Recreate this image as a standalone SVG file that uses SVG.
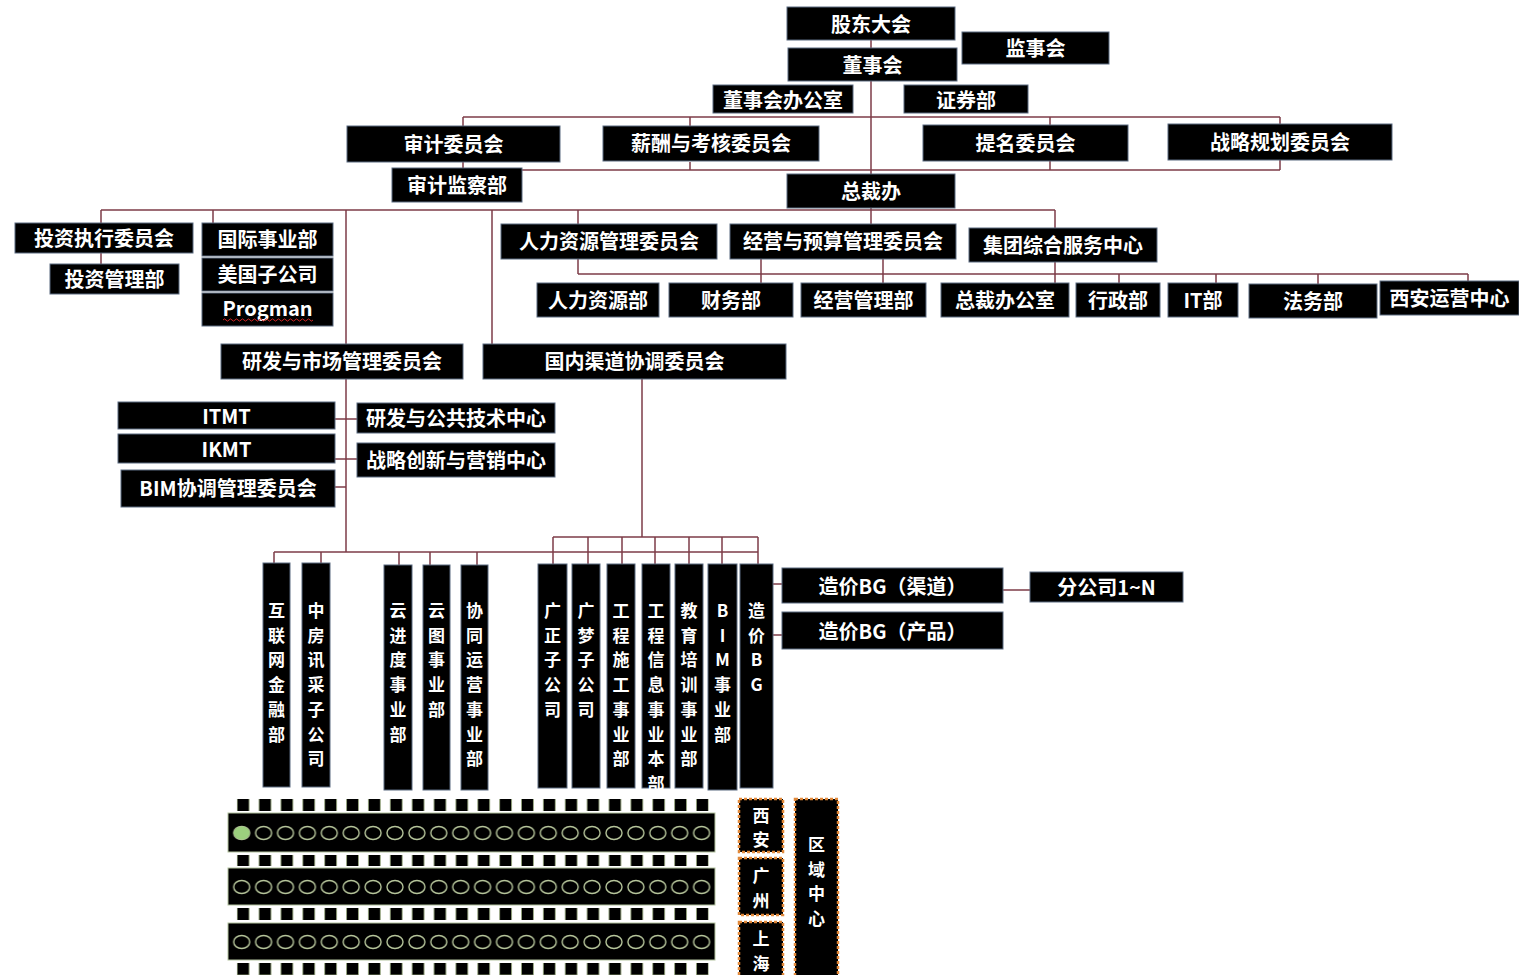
<svg xmlns="http://www.w3.org/2000/svg" width="1519" height="975" viewBox="0 0 1519 975">
<style>
.b{fill:#000;stroke:#5a6a80;stroke-width:1}
.t{fill:#fff;font-family:"Noto Sans CJK SC","Noto Sans",sans-serif;font-weight:bold;font-size:20px;text-anchor:middle;dominant-baseline:central}
.tv{fill:#fff;font-family:"Noto Sans CJK SC","Noto Sans",sans-serif;font-weight:bold;font-size:17px;text-anchor:middle;dominant-baseline:central}
.c{fill:none;stroke:#7d3c48;stroke-width:1.5}
.r{fill:#000;stroke:#e0883a;stroke-width:2.5;stroke-dasharray:3 2}
.bd{fill:#000;stroke:#b4c4a0;stroke-width:1}
</style>
<defs>
<pattern id="sqp" patternUnits="userSpaceOnUse" x="236.7" y="0" width="21.87" height="975">
<rect x="0.4" y="0" width="12" height="975" fill="#000" stroke="#9aab80" stroke-width="0.8"/>
</pattern>
<pattern id="cp" patternUnits="userSpaceOnUse" x="230.75" y="0" width="21.9" height="975">
<ellipse cx="10.95" cy="833" rx="8" ry="6.5" fill="none" stroke="#b5c49a" stroke-width="1.4"/>
<ellipse cx="10.95" cy="887" rx="8" ry="6.5" fill="none" stroke="#b5c49a" stroke-width="1.4"/>
<ellipse cx="10.95" cy="942" rx="8" ry="6.5" fill="none" stroke="#b5c49a" stroke-width="1.4"/>
</pattern>
</defs>
<rect width="1519" height="975" fill="#fff"/>

<g id="connectors">
<path class="c" d="M871 40V48 M871 81V174 M871 208V224"/>
<path class="c" d="M463 117H1280 M463 117V126 M463 162V168 M690 117V126 M690 162V170 M1050 117V125 M1050 161V170 M1280 117V124 M1280 160V170 M522 170H1280"/>
<path class="c" d="M101 210H1055 M101 210V223 M101 253V264 M213 210V223 M346 210V344 M492 210V344 M578 210V224 M1055 210V228"/>
<path class="c" d="M578 274H1468 M578 259V274 M761 259V283 M883 259V283 M1055 262V283 M1119 274V283 M1216 274V283 M1318 274V284 M1468 274V281"/>
<path class="c" d="M346 379V552 M335 419H357 M335 459H357 M335 487H346"/>
<path class="c" d="M274 552H758 M274 552V563 M321 552V563 M399 552V565 M430 552V565 M477 552V565"/>
<path class="c" d="M642 379V537 M553 537H758 M553 537V564 M588 537V564 M622 537V564 M655 537V564 M689 537V564 M722 537V564 M758 537V564"/>
<path class="c" d="M773 584H782 M773 635H782 M1003 590H1030"/>
</g>

<g id="n-gudong"><rect class="b" x="787" y="7" width="168" height="33"/><text class="t" x="871" y="23">股东大会</text></g>
<g id="n-jianshi"><rect class="b" x="962" y="32" width="147" height="32"/><text class="t" x="1035.5" y="47">监事会</text></g>
<g id="n-dongshi"><rect class="b" x="788" y="48" width="169" height="33"/><text class="t" x="872.5" y="64">董事会</text></g>
<g id="n-dongban"><rect class="b" x="713" y="85" width="140" height="28"/><text class="t" x="783" y="99">董事会办公室</text></g>
<g id="n-zhengquan"><rect class="b" x="904" y="85" width="124" height="28"/><text class="t" x="966" y="99">证券部</text></g>
<g id="n-shenji"><rect class="b" x="347" y="126" width="213" height="36"/><text class="t" x="453.5" y="143">审计委员会</text></g>
<g id="n-xinchou"><rect class="b" x="603" y="126" width="216" height="35"/><text class="t" x="711" y="142.5">薪酬与考核委员会</text></g>
<g id="n-timing"><rect class="b" x="923" y="125" width="205" height="36"/><text class="t" x="1025.5" y="142">提名委员会</text></g>
<g id="n-zhanlue"><rect class="b" x="1168" y="124" width="224" height="36"/><text class="t" x="1280" y="141">战略规划委员会</text></g>
<g id="n-shenjijc"><rect class="b" x="392" y="168" width="130" height="34"/><text class="t" x="457" y="184">审计监察部</text></g>
<g id="n-zongcai"><rect class="b" x="787" y="174" width="168" height="34"/><text class="t" x="871" y="190">总裁办</text></g>

<g id="n-touzizx"><rect class="b" x="15" y="223" width="178" height="30"/><text class="t" x="104" y="237.5">投资执行委员会</text></g>
<g id="n-touzigl"><rect class="b" x="50" y="264" width="129" height="30"/><text class="t" x="114.5" y="278.5">投资管理部</text></g>
<g id="n-guoji"><rect class="b" x="202" y="223" width="131" height="33"/><text class="t" x="267.5" y="238.5">国际事业部</text></g>
<g id="n-meiguo"><rect class="b" x="202" y="258" width="131" height="33"/><text class="t" x="267.5" y="273.5">美国子公司</text></g>
<g id="n-progman"><rect class="b" x="202" y="293" width="131" height="33"/><text class="t" x="267.5" y="307.5">Progman</text>
<path d="M223 320q1.5 -2.2 3 0t3 0t3 0t3 0t3 0t3 0t3 0t3 0t3 0t3 0t3 0t3 0t3 0t3 0t3 0t3 0t3 0t3 0t3 0t3 0t3 0t3 0t3 0t3 0t3 0t3 0t3 0t3 0t3 0t3 0" fill="none" stroke="#d02828" stroke-width="1"/></g>

<g id="n-renliwy"><rect class="b" x="501" y="224" width="216" height="35"/><text class="t" x="609" y="240.5">人力资源管理委员会</text></g>
<g id="n-jingying"><rect class="b" x="730" y="224" width="226" height="35"/><text class="t" x="843" y="240.5">经营与预算管理委员会</text></g>
<g id="n-jituan"><rect class="b" x="969" y="228" width="188" height="34"/><text class="t" x="1063" y="244">集团综合服务中心</text></g>

<g id="n-renli"><rect class="b" x="537" y="283" width="122" height="34"/><text class="t" x="598" y="299">人力资源部</text></g>
<g id="n-caiwu"><rect class="b" x="669" y="283" width="124" height="34"/><text class="t" x="731" y="299">财务部</text></g>
<g id="n-jingyinggl"><rect class="b" x="801" y="283" width="125" height="34"/><text class="t" x="863.5" y="299">经营管理部</text></g>
<g id="n-zongcaibgs"><rect class="b" x="941" y="283" width="128" height="34"/><text class="t" x="1005" y="299">总裁办公室</text></g>
<g id="n-xingzheng"><rect class="b" x="1076" y="283" width="84" height="34"/><text class="t" x="1118" y="299">行政部</text></g>
<g id="n-it"><rect class="b" x="1168" y="283" width="70" height="34"/><text class="t" x="1203" y="299">IT部</text></g>
<g id="n-fawu"><rect class="b" x="1249" y="284" width="128" height="34"/><text class="t" x="1313" y="300">法务部</text></g>
<g id="n-xian"><rect class="b" x="1380" y="281" width="139" height="34"/><text class="t" x="1449.5" y="297">西安运营中心</text></g>

<g id="n-yanfa"><rect class="b" x="221" y="344" width="242" height="35"/><text class="t" x="342" y="360.5">研发与市场管理委员会</text></g>
<g id="n-guonei"><rect class="b" x="483" y="344" width="303" height="35"/><text class="t" x="634.5" y="360.5">国内渠道协调委员会</text></g>

<g id="n-itmt"><rect class="b" x="118" y="402" width="217" height="27"/><text class="t" x="226.5" y="415">ITMT</text></g>
<g id="n-ikmt"><rect class="b" x="118" y="434" width="217" height="29"/><text class="t" x="226.5" y="448">IKMT</text></g>
<g id="n-bimxt"><rect class="b" x="121" y="470" width="214" height="37"/><text class="t" x="228" y="487.5">BIM协调管理委员会</text></g>
<g id="n-yfgg"><rect class="b" x="357" y="403" width="198" height="30"/><text class="t" x="456" y="417">研发与公共技术中心</text></g>
<g id="n-zlcx"><rect class="b" x="357" y="443" width="198" height="34"/><text class="t" x="456" y="459">战略创新与营销中心</text></g>

<g id="n-hulianwang"><rect class="b" x="263" y="563" width="27" height="224"/><text class="tv"><tspan x="276.5" y="609">互</tspan><tspan x="276.5" y="633.7">联</tspan><tspan x="276.5" y="658.4">网</tspan><tspan x="276.5" y="683.1">金</tspan><tspan x="276.5" y="707.8">融</tspan><tspan x="276.5" y="732.5">部</tspan></text></g>
<g id="n-zhongfang"><rect class="b" x="302" y="563" width="28" height="224"/><text class="tv"><tspan x="316" y="609">中</tspan><tspan x="316" y="633.7">房</tspan><tspan x="316" y="658.4">讯</tspan><tspan x="316" y="683.1">采</tspan><tspan x="316" y="707.8">子</tspan><tspan x="316" y="732.5">公</tspan><tspan x="316" y="757.2">司</tspan></text></g>
<g id="n-yunjindu"><rect class="b" x="384" y="565" width="28" height="225"/><text class="tv"><tspan x="398" y="609">云</tspan><tspan x="398" y="633.7">进</tspan><tspan x="398" y="658.4">度</tspan><tspan x="398" y="683.1">事</tspan><tspan x="398" y="707.8">业</tspan><tspan x="398" y="732.5">部</tspan></text></g>
<g id="n-yuntu"><rect class="b" x="423" y="565" width="27" height="225"/><text class="tv"><tspan x="436.5" y="609">云</tspan><tspan x="436.5" y="633.7">图</tspan><tspan x="436.5" y="658.4">事</tspan><tspan x="436.5" y="683.1">业</tspan><tspan x="436.5" y="707.8">部</tspan></text></g>
<g id="n-xietong"><rect class="b" x="461" y="565" width="27" height="225"/><text class="tv"><tspan x="474.5" y="609">协</tspan><tspan x="474.5" y="633.7">同</tspan><tspan x="474.5" y="658.4">运</tspan><tspan x="474.5" y="683.1">营</tspan><tspan x="474.5" y="707.8">事</tspan><tspan x="474.5" y="732.5">业</tspan><tspan x="474.5" y="757.2">部</tspan></text></g>
<g id="n-guangzheng"><rect class="b" x="538" y="564" width="29" height="224"/><text class="tv"><tspan x="552.5" y="609">广</tspan><tspan x="552.5" y="633.7">正</tspan><tspan x="552.5" y="658.4">子</tspan><tspan x="552.5" y="683.1">公</tspan><tspan x="552.5" y="707.8">司</tspan></text></g>
<g id="n-guangmeng"><rect class="b" x="572" y="564" width="28" height="224"/><text class="tv"><tspan x="586" y="609">广</tspan><tspan x="586" y="633.7">梦</tspan><tspan x="586" y="658.4">子</tspan><tspan x="586" y="683.1">公</tspan><tspan x="586" y="707.8">司</tspan></text></g>
<g id="n-gcsg"><rect class="b" x="607" y="564" width="28" height="224"/><text class="tv"><tspan x="621" y="609">工</tspan><tspan x="621" y="633.7">程</tspan><tspan x="621" y="658.4">施</tspan><tspan x="621" y="683.1">工</tspan><tspan x="621" y="707.8">事</tspan><tspan x="621" y="732.5">业</tspan><tspan x="621" y="757.2">部</tspan></text></g>
<g id="n-gcxx"><rect class="b" x="642" y="564" width="28" height="224"/><text class="tv"><tspan x="656" y="609">工</tspan><tspan x="656" y="633.7">程</tspan><tspan x="656" y="658.4">信</tspan><tspan x="656" y="683.1">息</tspan><tspan x="656" y="707.8">事</tspan><tspan x="656" y="732.5">业</tspan><tspan x="656" y="757.2">本</tspan><tspan x="656" y="781.9">部</tspan></text></g>
<g id="n-jiaoyu"><rect class="b" x="675" y="564" width="28" height="224"/><text class="tv"><tspan x="689" y="609">教</tspan><tspan x="689" y="633.7">育</tspan><tspan x="689" y="658.4">培</tspan><tspan x="689" y="683.1">训</tspan><tspan x="689" y="707.8">事</tspan><tspan x="689" y="732.5">业</tspan><tspan x="689" y="757.2">部</tspan></text></g>
<g id="n-bim"><rect class="b" x="708" y="564" width="29" height="226"/><text class="tv"><tspan x="722.5" y="609">B</tspan><tspan x="722.5" y="633.7">I</tspan><tspan x="722.5" y="658.4">M</tspan><tspan x="722.5" y="683.1">事</tspan><tspan x="722.5" y="707.8">业</tspan><tspan x="722.5" y="732.5">部</tspan></text></g>
<g id="n-zaojia"><rect class="b" x="740" y="564" width="33" height="224"/><text class="tv"><tspan x="756.5" y="609">造</tspan><tspan x="756.5" y="633.7">价</tspan><tspan x="756.5" y="658.4">B</tspan><tspan x="756.5" y="683.1">G</tspan></text></g>
<g id="n-zjqd"><rect class="b" x="782" y="568" width="221" height="35"/><text class="t" x="892.5" y="585">造价BG（渠道）</text></g>
<g id="n-zjcp"><rect class="b" x="782" y="612" width="221" height="37"/><text class="t" x="892.5" y="630">造价BG（产品）</text></g>
<g id="n-fengongsi"><rect class="b" x="1030" y="572" width="153" height="30"/><text class="t" x="1106.5" y="586.5">分公司1~N</text></g>

<g id="board">
<rect x="236.7" y="799" width="472" height="12" fill="url(#sqp)"/>
<rect x="236.7" y="855" width="472" height="11" fill="url(#sqp)"/>
<rect x="236.7" y="908" width="472" height="12" fill="url(#sqp)"/>
<rect x="236.7" y="963" width="472" height="12" fill="url(#sqp)"/>
<rect class="bd" x="228" y="813" width="487" height="39"/>
<rect class="bd" x="228" y="868" width="487" height="37"/>
<rect class="bd" x="228" y="923" width="487" height="37"/>
<rect x="230.75" y="820" width="481.8" height="135" fill="url(#cp)"/>
<ellipse cx="241.7" cy="833" rx="8" ry="6.5" fill="#9ccf7e"/>
</g>

<g id="n-xianr"><rect class="r" x="739" y="799" width="44" height="53"/><text class="tv"><tspan x="761" y="813.5">西</tspan><tspan x="761" y="838.2">安</tspan></text></g>
<g id="n-guangzhou"><rect class="r" x="739" y="858" width="44" height="57"/><text class="tv"><tspan x="761" y="874">广</tspan><tspan x="761" y="898.7">州</tspan></text></g>
<g id="n-shanghai"><rect class="r" x="739" y="922" width="44" height="60"/><text class="tv"><tspan x="761" y="937">上</tspan><tspan x="761" y="961.7">海</tspan></text></g>
<g id="n-quyu"><rect class="r" x="795" y="799" width="43" height="183"/><text class="tv"><tspan x="816.5" y="843">区</tspan><tspan x="816.5" y="867.7">域</tspan><tspan x="816.5" y="892.4">中</tspan><tspan x="816.5" y="917.1">心</tspan></text></g>
</svg>
